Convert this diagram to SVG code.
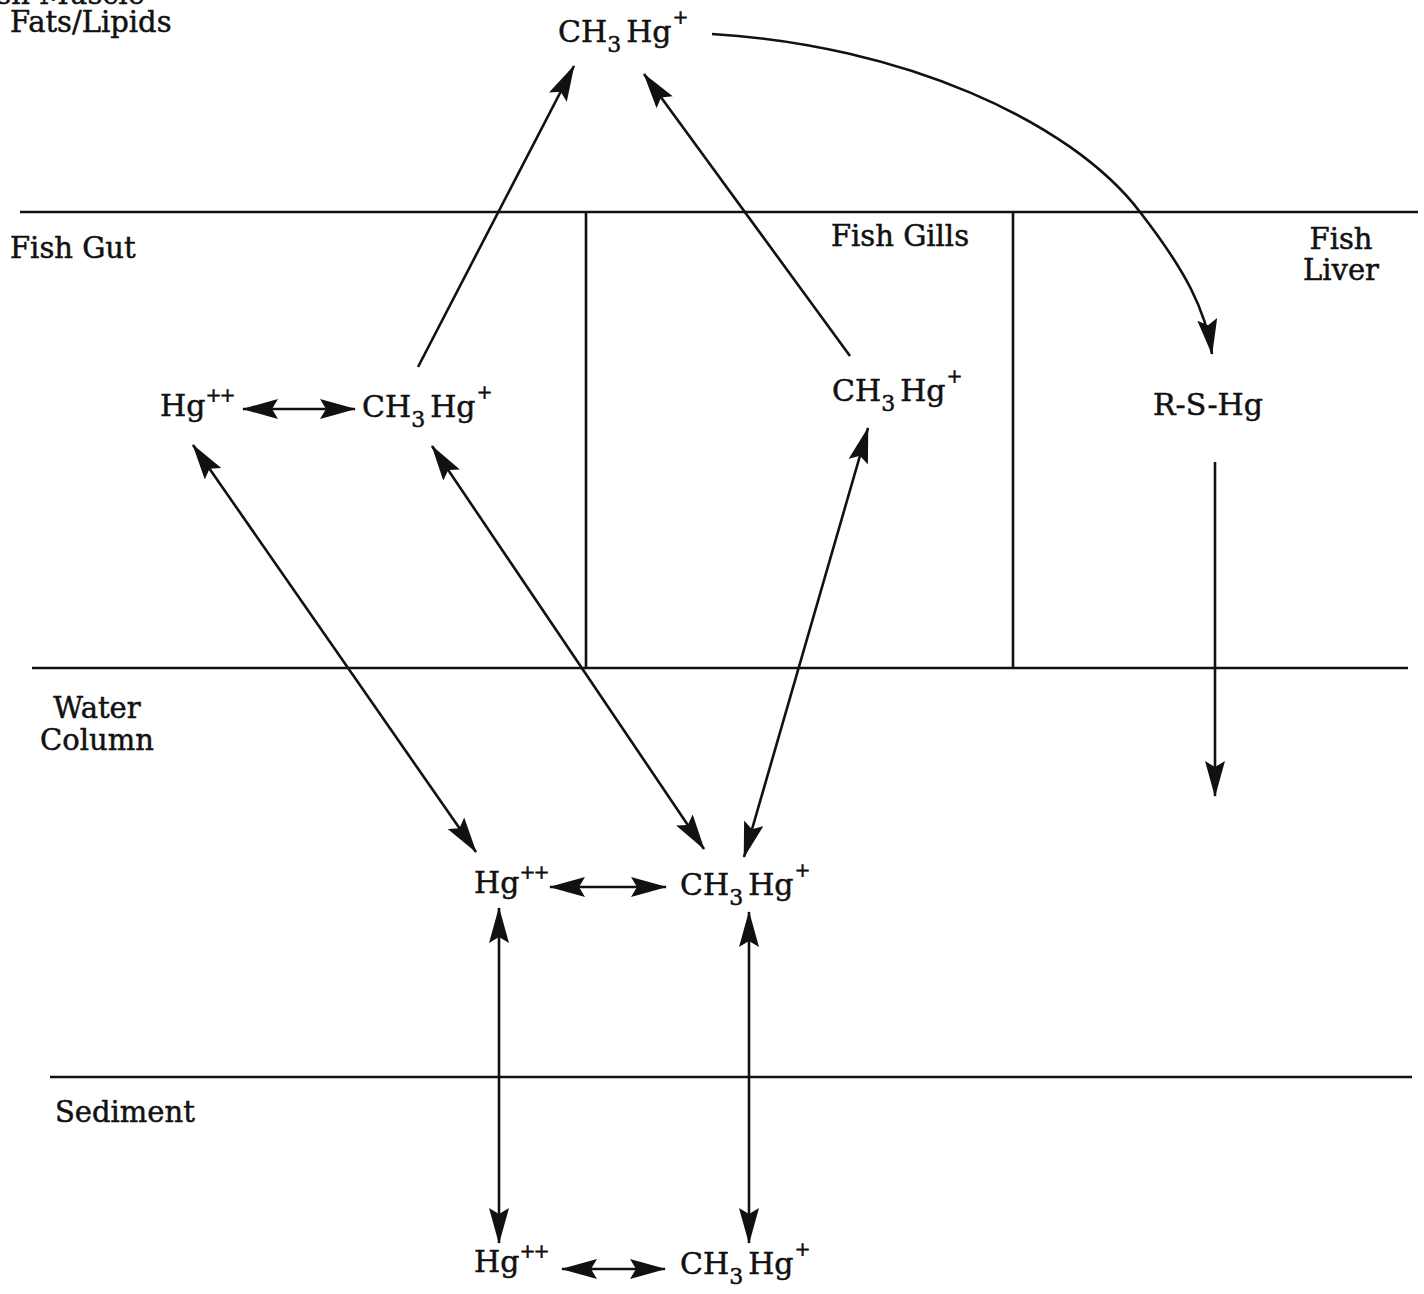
<svg xmlns="http://www.w3.org/2000/svg" width="1424" height="1294" viewBox="0 0 1424 1294">
<style>
.t{font-family:"DejaVu Serif","Liberation Serif",serif;font-size:29px;fill:#111;stroke:#111;stroke-width:0.5}
.c{font-family:"DejaVu Serif","Liberation Serif",serif;font-size:30px;fill:#111;stroke:#111;stroke-width:0.5}
.sub{font-size:22px}
.sup{font-family:"Liberation Serif","DejaVu Serif",serif;font-size:25px;stroke-width:0.8}
.rule{stroke:#111;stroke-width:2.6;fill:none}
.arr{stroke:#111;stroke-width:2.6;fill:none}
</style>
<defs>
<marker id="ah" viewBox="0 0 36 20" refX="35" refY="10" markerWidth="36" markerHeight="20" markerUnits="userSpaceOnUse" orient="auto-start-reverse">
<path d="M0,0 L36,10 L0,20 L6,10 z" fill="#111"/>
</marker>
</defs>
<rect width="1424" height="1294" fill="#fff"/>
<g id="compartments">
<line class="rule" x1="20" y1="212" x2="1418" y2="212"/>
<line class="rule" x1="586" y1="212" x2="586" y2="668"/>
<line class="rule" x1="1013" y1="212" x2="1013" y2="668"/>
<line class="rule" x1="32" y1="668" x2="1408" y2="668"/>
<line class="rule" x1="50" y1="1077" x2="1412" y2="1077"/>
</g>
<g id="labels">
<text class="t" x="145" y="4" text-anchor="end">Fish Muscle</text>
<text class="t" x="10" y="32">Fats/Lipids</text>
<text class="t" x="10" y="258">Fish Gut</text>
<text class="t" x="900" y="246" text-anchor="middle">Fish Gills</text>
<text class="t" x="1341" y="249" text-anchor="middle">Fish</text>
<text class="t" x="1341" y="280" text-anchor="middle">Liver</text>
<text class="t" x="97" y="718" text-anchor="middle">Water</text>
<text class="t" x="97" y="750" text-anchor="middle">Column</text>
<text class="t" x="55" y="1122">Sediment</text>
</g>
<g id="n-muscle-ch3hg">
<text class="c" x="558" y="42">CH<tspan class="sub" dy="10">3</tspan><tspan dx="5" dy="-10">Hg</tspan><tspan class="sup" dx="2" dy="-16">+</tspan></text>
</g>
<g id="n-gut-hg">
<text class="c" x="160" y="416">Hg<tspan class="sup" dx="1" dy="-12">++</tspan></text>
</g>
<g id="n-gut-ch3hg">
<text class="c" x="362" y="417">CH<tspan class="sub" dy="10">3</tspan><tspan dx="5" dy="-10">Hg</tspan><tspan class="sup" dx="2" dy="-16">+</tspan></text>
</g>
<g id="n-gills-ch3hg">
<text class="c" x="832" y="401">CH<tspan class="sub" dy="10">3</tspan><tspan dx="5" dy="-10">Hg</tspan><tspan class="sup" dx="2" dy="-16">+</tspan></text>
</g>
<g id="n-liver-rshg">
<text class="c" x="1153" y="415">R-S-Hg</text>
</g>
<g id="n-water-hg">
<text class="c" x="474" y="893">Hg<tspan class="sup" dx="1" dy="-12">++</tspan></text>
</g>
<g id="n-water-ch3hg">
<text class="c" x="680" y="895">CH<tspan class="sub" dy="10">3</tspan><tspan dx="5" dy="-10">Hg</tspan><tspan class="sup" dx="2" dy="-16">+</tspan></text>
</g>
<g id="n-sed-hg">
<text class="c" x="474" y="1272">Hg<tspan class="sup" dx="1" dy="-12">++</tspan></text>
</g>
<g id="n-sed-ch3hg">
<text class="c" x="680" y="1274">CH<tspan class="sub" dy="10">3</tspan><tspan dx="5" dy="-10">Hg</tspan><tspan class="sup" dx="2" dy="-16">+</tspan></text>
</g>
<g id="connectors">
<line class="arr" x1="243" y1="409" x2="355" y2="409" marker-start="url(#ah)" marker-end="url(#ah)"/>
<line class="arr" x1="550" y1="887" x2="666" y2="887" marker-start="url(#ah)" marker-end="url(#ah)"/>
<line class="arr" x1="562" y1="1269" x2="665" y2="1269" marker-start="url(#ah)" marker-end="url(#ah)"/>
<line class="arr" x1="418" y1="367" x2="574" y2="66" marker-end="url(#ah)"/>
<line class="arr" x1="850" y1="356" x2="644" y2="74" marker-end="url(#ah)"/>
<path class="arr" d="M712,34 C900,45 1070,120 1140,212 C1185,270 1206,310 1212,354" marker-end="url(#ah)"/>
<line class="arr" x1="1215" y1="462" x2="1215" y2="796" marker-end="url(#ah)"/>
<line class="arr" x1="193" y1="445" x2="476" y2="852" marker-start="url(#ah)" marker-end="url(#ah)"/>
<line class="arr" x1="432" y1="446" x2="704" y2="849" marker-start="url(#ah)" marker-end="url(#ah)"/>
<line class="arr" x1="868" y1="428" x2="744" y2="857" marker-start="url(#ah)" marker-end="url(#ah)"/>
<line class="arr" x1="499" y1="908" x2="499" y2="1243" marker-start="url(#ah)" marker-end="url(#ah)"/>
<line class="arr" x1="749" y1="912" x2="749" y2="1243" marker-start="url(#ah)" marker-end="url(#ah)"/>
</g>
</svg>
